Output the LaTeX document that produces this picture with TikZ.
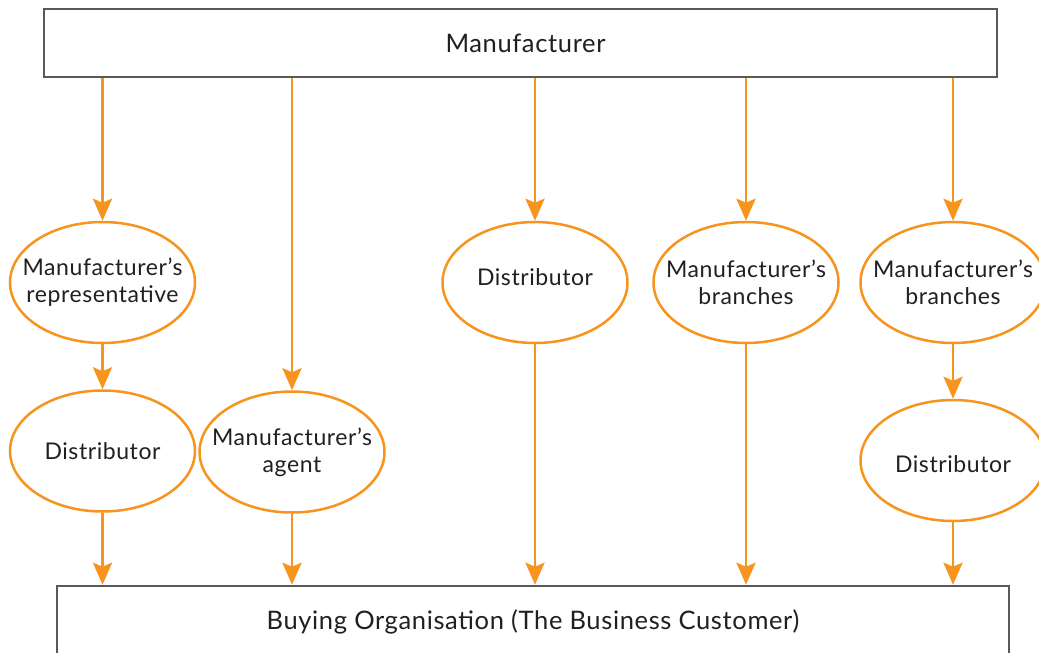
\documentclass[tikz,border=0pt]{standalone}
\usepackage{fontspec}
\setmainfont{Lato}[LetterSpace=2.5]
\usetikzlibrary{shapes.geometric,arrows.meta}
\definecolor{org}{HTML}{F7941D}
\definecolor{boxgray}{HTML}{58595B}
\definecolor{txt}{HTML}{231F20}
\begin{document}
\begin{tikzpicture}[x=1pt,y=-1pt,
  ell/.style={ellipse, draw=org, line width=2.5pt, minimum width=185pt, minimum height=121pt,
    inner xsep=-30pt, inner ysep=0pt, align=center, text=txt, font=\fontsize{23}{27}\selectfont},
  bar/.style={rectangle, draw=boxgray, line width=2.5pt, inner sep=0pt, text=txt,
    font=\fontsize{25.5}{28}\selectfont},
  arr/.style={draw=org, line width=2.9pt, -{Stealth[length=22pt,width=19pt,inset=4pt]}}]
\useasboundingbox (0,0) rectangle (1039,653);
\clip (0,0) rectangle (1039,653);
\fill[white] (0,0) rectangle (1039,653);

\node[bar, minimum width=953pt, minimum height=68pt] (man) at (520.5,43) {\hspace*{10pt}Manufacturer};
\node[ell] (rep) at (102.5,282.5) {Manufacturer’s\\representative};
\node[ell] (dl) at (102.5,451) {Distributor};
\node[ell] (ag) at (292,452) {Manufacturer’s\\agent};
\node[ell, text depth=10pt] (dm) at (535,282.5) {Distributor};
\node[ell] (b1) at (746,282.5) {Manufacturer’s\\branches};
\node[ell] (b2) at (953,282.5) {Manufacturer’s\\branches};
\node[ell, text height=24.5pt] (dr) at (953,460.5) {Distributor};
\node[bar, minimum width=952pt, minimum height=72pt] (buy) at (533,622) {Buying Organisation (The Business Customer)};

\draw[arr] (man.south -| rep.north) -- (rep.north);
\draw[arr] (man.south -| ag.north) -- (ag.north);
\draw[arr] (man.south -| dm.north) -- (dm.north);
\draw[arr] (man.south -| b1.north) -- (b1.north);
\draw[arr] (man.south -| b2.north) -- (b2.north);
\draw[arr] (rep.south) -- (dl.north);
\draw[arr] (b2.south) -- (dr.north);
\draw[arr] (dl.south) -- (dl.south |- buy.north);
\draw[arr] (ag.south) -- (ag.south |- buy.north);
\draw[arr] (dm.south) -- (dm.south |- buy.north);
\draw[arr] (b1.south) -- (b1.south |- buy.north);
\draw[arr] (dr.south) -- (dr.south |- buy.north);
\end{tikzpicture}
\end{document}
